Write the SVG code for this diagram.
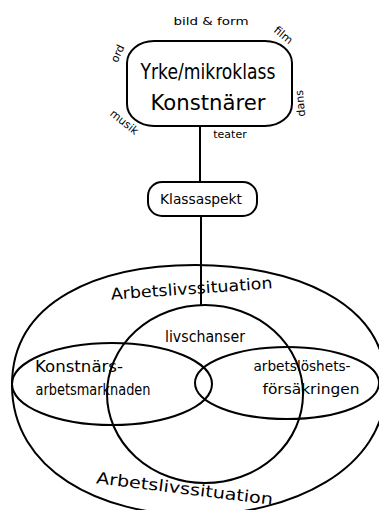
<svg xmlns="http://www.w3.org/2000/svg" width="379" height="510" viewBox="0 0 379 510">
<style>
.s{fill:none;stroke:#000;stroke-width:2}
text{font-family:"DejaVu Sans","Liberation Sans",sans-serif;fill:#000;text-anchor:middle}
.big{font-size:22px}
.sm{font-size:11px}
.md{font-size:14px}
.lg{font-size:16px}
</style>
<rect width="379" height="510" fill="#fff"/>
<g id="connectors">
<path class="s" d="M200 126 L200 182"/>
<path class="s" d="M201 216 L201 306"/>
</g>
<g id="outer">
<path class="s" d="M12 385 C12 300 100 265 195 265 C290 265 386 300 386 385 C386 470 290 515 195 515 C100 515 12 470 12 385 Z"/>
<text class="lg" x="192" y="294" transform="rotate(-4 192 294)" textLength="162" lengthAdjust="spacingAndGlyphs">Arbetslivssituation</text>
<text class="lg" x="184" y="494" transform="rotate(7 184 494)" textLength="178" lengthAdjust="spacingAndGlyphs">Arbetslivssituation</text>
</g>
<g id="livschanser">
<ellipse class="s" cx="205" cy="394" rx="98" ry="89"/>
<text class="lg" x="205" y="342" textLength="80" lengthAdjust="spacingAndGlyphs">livschanser</text>
</g>
<g id="konst">
<ellipse class="s" cx="112" cy="384" rx="100" ry="41"/>
<text class="lg" x="79" y="372" textLength="88" lengthAdjust="spacingAndGlyphs">Konstnärs-</text>
<text class="lg" x="93" y="395" textLength="115" lengthAdjust="spacingAndGlyphs">arbetsmarknaden</text>
</g>
<g id="arbl">
<ellipse class="s" cx="287" cy="383" rx="92" ry="36"/>
<text class="md" x="302" y="371" textLength="97" lengthAdjust="spacingAndGlyphs">arbetslöshets-</text>
<text class="md" x="311" y="394" textLength="97" lengthAdjust="spacingAndGlyphs">försäkringen</text>
</g>
<g id="yrke">
<rect class="s" x="127" y="41" width="165" height="85" rx="27" ry="22"/>
<text class="big" x="208" y="79" textLength="135" lengthAdjust="spacingAndGlyphs">Yrke/mikroklass</text>
<text class="big" x="208" y="110" textLength="115" lengthAdjust="spacingAndGlyphs">Konstnärer</text>
<text class="sm" x="211" y="25" textLength="75" lengthAdjust="spacingAndGlyphs">bild &amp; form</text>
<text class="sm" x="281" y="38" transform="rotate(40 281 38)">film</text>
<text class="sm" x="121" y="55" transform="rotate(-65 121 55)">ord</text>
<text class="sm" x="122" y="125" transform="rotate(39 122 125)">musik</text>
<text class="sm" x="230" y="138">teater</text>
<text class="sm" x="304" y="103" transform="rotate(-95 304 103)">dans</text>
</g>
<g id="klassaspekt">
<rect class="s" x="148" y="182" width="109" height="34" rx="14"/>
<text class="md" x="201" y="204" textLength="82" lengthAdjust="spacingAndGlyphs">Klassaspekt</text>
</g>
</svg>
